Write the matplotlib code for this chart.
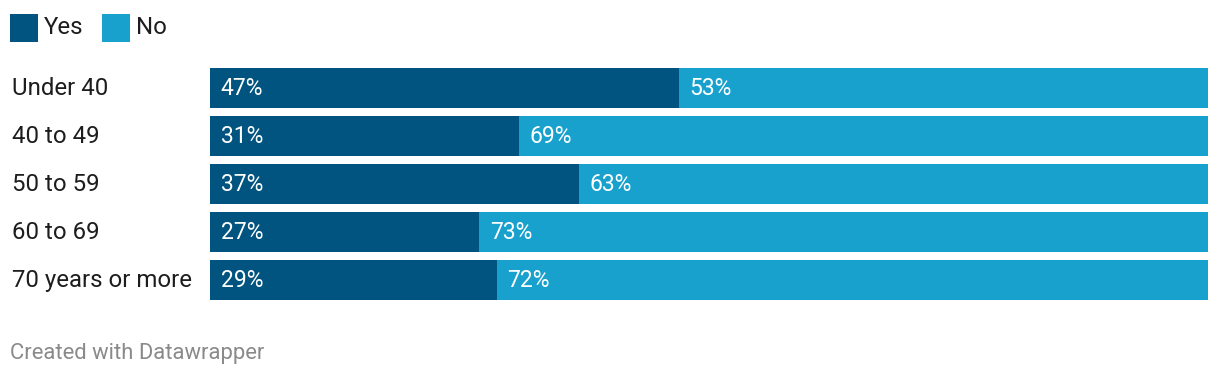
import matplotlib
matplotlib.use("Agg")
import matplotlib.pyplot as plt
from matplotlib.patches import Rectangle
from matplotlib.transforms import blended_transform_factory

plt.rcParams['font.family'] = ['Roboto', 'DejaVu Sans']

# --- Data ---
categories = ["Under 40", "40 to 49", "50 to 59", "60 to 69", "70 years or more"]
yes_vals = [47, 31, 37, 27, 29]
no_vals = [53, 69, 63, 73, 72]
series_names = ["Yes", "No"]

# --- Style ---
YES_COLOR = "#01547f"
NO_COLOR = "#19a1ce"
TEXT_COLOR = "#1d1d1d"
W, H = 1220, 378

fig = plt.figure(figsize=(W / 100, H / 100), dpi=100)
ax = fig.add_axes([210 / W, 78 / H, 998 / W, 232 / H])

bar_h = 40 / 48
for i, (y, n) in enumerate(zip(yes_vals, no_vals)):
    # shares of the row total (rows don't always add up to exactly 100)
    total = y + n
    ys = y / total * 100
    ns = n / total * 100
    ax.barh(i, ys, height=bar_h, color=YES_COLOR, linewidth=0)
    ax.barh(i, ns, left=ys, height=bar_h, color=NO_COLOR, linewidth=0)
    ax.annotate(f"{y}%", (0, i), xytext=(7.6, -0.7), textcoords="offset points",
                ha="left", va="center", color="white", fontsize=16.5)
    ax.annotate(f"{n}%", (ys, i), xytext=(7.6, -0.7), textcoords="offset points",
                ha="left", va="center", color="white", fontsize=16.5)

ax.set_xlim(0, 100)
ax.set_ylim(len(categories) - 1 + bar_h / 2, -bar_h / 2)
ax.axis("off")

# category labels
trans = blended_transform_factory(fig.transFigure, ax.transData)
for i, c in enumerate(categories):
    ax.text(12 / W, i + 0.02, c, transform=trans, ha="left", va="center",
            fontsize=17.3, color=TEXT_COLOR)

# legend
for name, color, x0, tx in [(series_names[0], YES_COLOR, 10, 44),
                            (series_names[1], NO_COLOR, 102, 136)]:
    fig.patches.append(Rectangle((x0 / W, (H - 42) / H), 28 / W, 28 / H,
                                 transform=fig.transFigure, color=color,
                                 linewidth=0))
    fig.text(tx / W, (H - 27) / H, name, ha="left", va="center",
             fontsize=17.3, color=TEXT_COLOR)

fig.text(10 / W, (H - 353) / H, "Created with Datawrapper", ha="left",
         va="center", fontsize=15.8, color="#8a8a8a")

fig.savefig("out.png", dpi=100, facecolor="white")
